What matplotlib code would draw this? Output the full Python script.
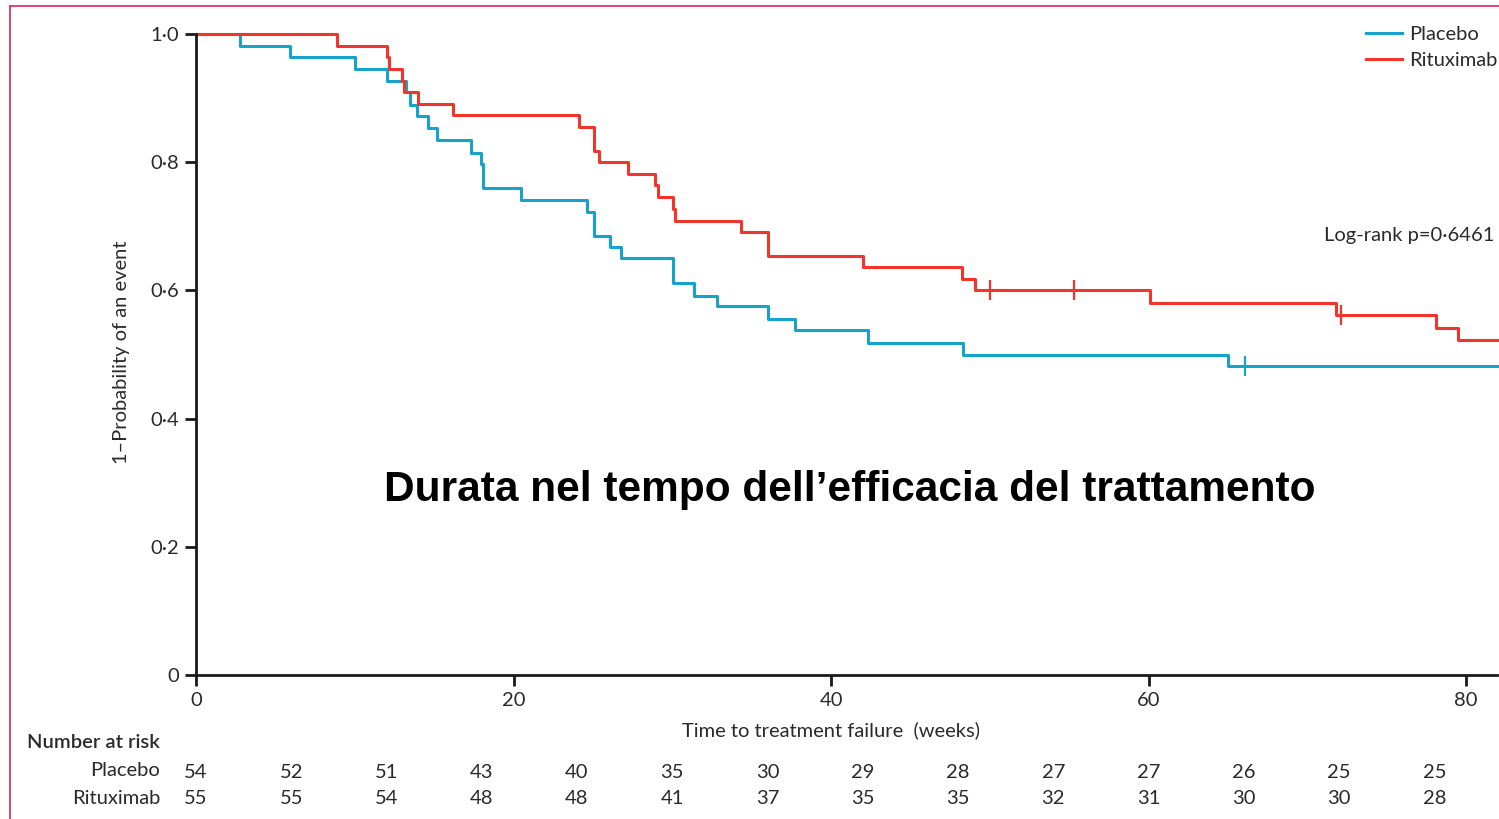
import matplotlib
matplotlib.use("Agg")
import matplotlib.pyplot as plt
from matplotlib.lines import Line2D

# Kaplan-Meier steps (time in weeks, 1-probability after each event)
placebo_t = [0, 2.75, 5.9, 10.0, 12.0, 13.2, 13.5, 13.9, 14.6, 15.2, 17.3, 17.95, 18.08,
             20.5, 24.6, 25.07, 26.1, 26.8, 30.03, 31.4, 32.8, 36.0, 37.7, 42.3, 48.3, 65.0, 82.0]
placebo_s = [1.0, 0.982, 0.964, 0.945, 0.927, 0.909, 0.890, 0.872, 0.853, 0.834, 0.815, 0.797, 0.760,
             0.741, 0.723, 0.685, 0.668, 0.650, 0.612, 0.592, 0.575, 0.555, 0.538, 0.518, 0.499, 0.482, 0.482]
placebo_cens_t = [66.1]
placebo_cens_s = [0.482]

ritux_t = [0, 8.9, 12.0, 12.15, 13.0, 13.1, 14.0, 16.2, 24.1, 25.1, 25.4, 27.2, 28.9, 29.1,
           30.05, 30.2, 34.3, 36.0, 36.05, 42.0, 48.25, 49.1, 60.07, 71.8, 78.1, 79.5, 82.0]
ritux_s = [1.0, 0.982, 0.964, 0.945, 0.927, 0.909, 0.891, 0.873, 0.855, 0.818, 0.800, 0.782, 0.764, 0.745,
           0.727, 0.709, 0.691, 0.672, 0.654, 0.637, 0.618, 0.600, 0.580, 0.562, 0.541, 0.522, 0.522]
ritux_cens_t = [50.0, 55.3, 72.1]
ritux_cens_s = [0.600, 0.600, 0.562]

risk_weeks = [0, 6, 12, 18, 24, 30, 36, 42, 48, 54, 60, 66, 72, 78]
risk_placebo = [54, 52, 51, 43, 40, 35, 30, 29, 28, 27, 27, 26, 25, 25]
risk_ritux = [55, 55, 54, 48, 48, 41, 37, 35, 35, 32, 31, 30, 30, 28]

BLUE = "#16a2c9"
RED = "#f0362b"
TXT = "#2a2a2a"
W, H = 1499, 819
FS = 14.5

plt.rcParams["font.family"] = ["Lato", "DejaVu Sans"]
fig = plt.figure(figsize=(W / 100, H / 100), dpi=100)
ax = fig.add_axes([196 / W, 1 - 675 / H, 1301 / W, 641 / H])


def fx(px):
    return px / W


def fy(py):
    return 1 - py / H


ax.plot(placebo_t, placebo_s, drawstyle="steps-post", color=BLUE, lw=2.2, clip_on=False)
ax.plot(ritux_t, ritux_s, drawstyle="steps-post", color=RED, lw=2.2, clip_on=False)
ax.plot(placebo_cens_t, placebo_cens_s, ls="none", marker="|", ms=14, mew=1.6, color=BLUE)
ax.plot(ritux_cens_t, ritux_cens_s, ls="none", marker="|", ms=14, mew=1.6, color=RED)

ax.set_xlim(0, 81.95)
ax.set_ylim(0, 1.0)
for s in ["top", "right"]:
    ax.spines[s].set_visible(False)
for s in ["left", "bottom"]:
    ax.spines[s].set_linewidth(2)
    ax.spines[s].set_color("#1a1a1a")

ax.set_xticks([0, 20, 40, 60, 80])
ax.set_xticklabels(["0", "20", "40", "60", "80"])
ax.set_yticks([0, 0.2, 0.4, 0.6, 0.8, 1.0])
ax.set_yticklabels(["0", "0·2", "0·4", "0·6", "0·8", "1·0"])
ax.tick_params(direction="out", length=8, width=2, color="#1a1a1a", labelsize=FS,
               labelcolor=TXT, pad=4)

fig.text(fx(122), fy(352), "1–Probability of an event", rotation=90, ha="center", va="center",
         fontsize=FS, color=TXT)
fig.text(fx(831), fy(730), "Time to treatment failure  (weeks)", ha="center", va="center",
         fontsize=FS, color=TXT)

# legend
handles = [Line2D([], [], color=BLUE, lw=2.2), Line2D([], [], color=RED, lw=2.2)]
fig.legend(handles, ["Placebo", "Rituximab"], loc="upper right", bbox_to_anchor=(fx(1516), fy(8)),
           frameon=False, fontsize=FS, handlelength=1.8, handletextpad=0.35, labelspacing=0.45,
           labelcolor=TXT)

fig.text(fx(1494), fy(235), "Log-rank p=0·6461", ha="right", va="center", fontsize=FS, color=TXT)

fig.text(fx(850), fy(490), "Durata nel tempo dell’efficacia del trattamento", ha="center", va="center",
         fontsize=30.5, fontweight="bold", color="black", family=["Liberation Sans", "DejaVu Sans"])

# number at risk table
fig.text(fx(27), fy(743), "Number at risk", ha="left", va="center", fontsize=FS, color=TXT,
         fontweight="semibold")
fig.text(fx(160), fy(771), "Placebo", ha="right", va="center", fontsize=FS, color=TXT)
fig.text(fx(160), fy(798), "Rituximab", ha="right", va="center", fontsize=FS, color=TXT)
for wk, p, r in zip(risk_weeks, risk_placebo, risk_ritux):
    ax.text(wk, (675 - 772) / 641, str(p), ha="center", va="center", fontsize=FS, color=TXT,
            transform=ax.get_xaxis_transform(), clip_on=False)
    ax.text(wk, (675 - 799) / 641, str(r), ha="center", va="center", fontsize=FS, color=TXT,
            transform=ax.get_xaxis_transform(), clip_on=False)

# thin frame around the slide
fig.add_artist(Line2D([fx(10), fx(10)], [0, fy(6)], color="#d6285a", lw=1.2, transform=fig.transFigure))
fig.add_artist(Line2D([fx(10), 1], [fy(6), fy(6)], color="#d6285a", lw=1.2, transform=fig.transFigure))

fig.savefig("out.png", dpi=100)
